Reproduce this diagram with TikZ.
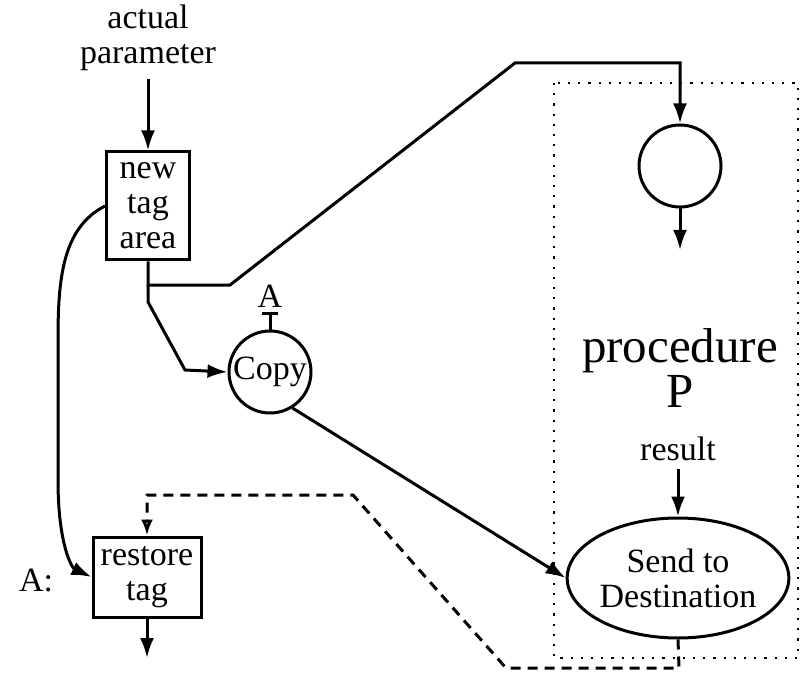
\documentclass[tikz,border=0pt]{standalone}
\usepackage{fontspec}
\setmainfont{Liberation Serif}
\usetikzlibrary{arrows.meta,shapes.geometric}
\begin{document}
\begin{tikzpicture}[x=0.5pt,y=-0.5pt,
  every node/.style={inner sep=0pt,font=\fontsize{17}{17.5}\selectfont},
  ln/.style={line width=1.5pt},
  arr/.style={ln,-{Latex[length=10pt,width=7pt]}},
  darr/.style={ln,dash pattern=on 5pt off 3.5pt,-{Latex[open,length=8pt,width=6pt]}},
  boxnode/.style={draw,line width=1.5pt,align=center,rectangle},
  circnode/.style={draw,line width=1.5pt,circle,minimum size=41pt},
  lbl/.style={align=center}]
\useasboundingbox (0,0) rectangle (801,678);
% dotted procedure frame
\draw[line width=1.1pt,dash pattern=on 1.1pt off 4pt] (554,83) rectangle (798,658);
% nodes
\node[lbl] (ap) at (148,38) {actual\\parameter};
\node[boxnode,minimum width=41.5pt,minimum height=54pt] (nt) at (148,206) {new\\tag\\area};
\node[boxnode,minimum width=54pt,minimum height=40pt] (rt) at (147,577) {restore\\tag};
\node[circnode] (cp) at (270,372) {Copy};
\node[circnode] (pc) at (680,166) {};
\node[draw,line width=1.5pt,ellipse,minimum width=103.5pt,minimum height=60pt,align=center] (sd) at (678,578) {Send to\\Destination};
\node[lbl,font=\fontsize{24.5}{15.5}\selectfont] (pr) at (680,368) {procedure\\P};
\node[lbl] (rs) at (678,449) {result};
\node[lbl] (la) at (270,296) {A};
\node[lbl] (lac) at (36,581) {A:};
% coordinates
\coordinate (j1) at (148,285);
\coordinate (pcout) at (680,250);
\coordinate (rtout) at (147,658);
\coordinate (tm) at (270,313);
% connectors
\draw[arr] (ap.south) ++(0,8) -- (nt.north);
\draw[arr] (nt.south) -- (j1) -- (230,285) -- (515,63) -- (680,63) -- (pc.north);
\draw[arr] (j1) -- (148,302) -- (185,370) -- (cp.west);
\draw[arr] (pc.south) -- (pcout);
\draw[arr] (rs.south) ++(0,8) -- (sd.north);
\draw[arr] (cp.-58) -- (sd.west);
\draw[ln] (cp.north) -- (tm);
\draw[ln] (262,313) -- (278,313);
\draw[darr] (sd.south) -- (679,668) -- (506,668) -- (353,495) -- (147,495) -- (rt.north);
\draw[arr] (rt.south) -- (rtout);
\draw[arr] (nt.west) .. controls (62,228) and (58,280) .. (58,340) -- (58,480) .. controls (58,545) and (72,568) .. (rt.west);
\end{tikzpicture}
\end{document}
